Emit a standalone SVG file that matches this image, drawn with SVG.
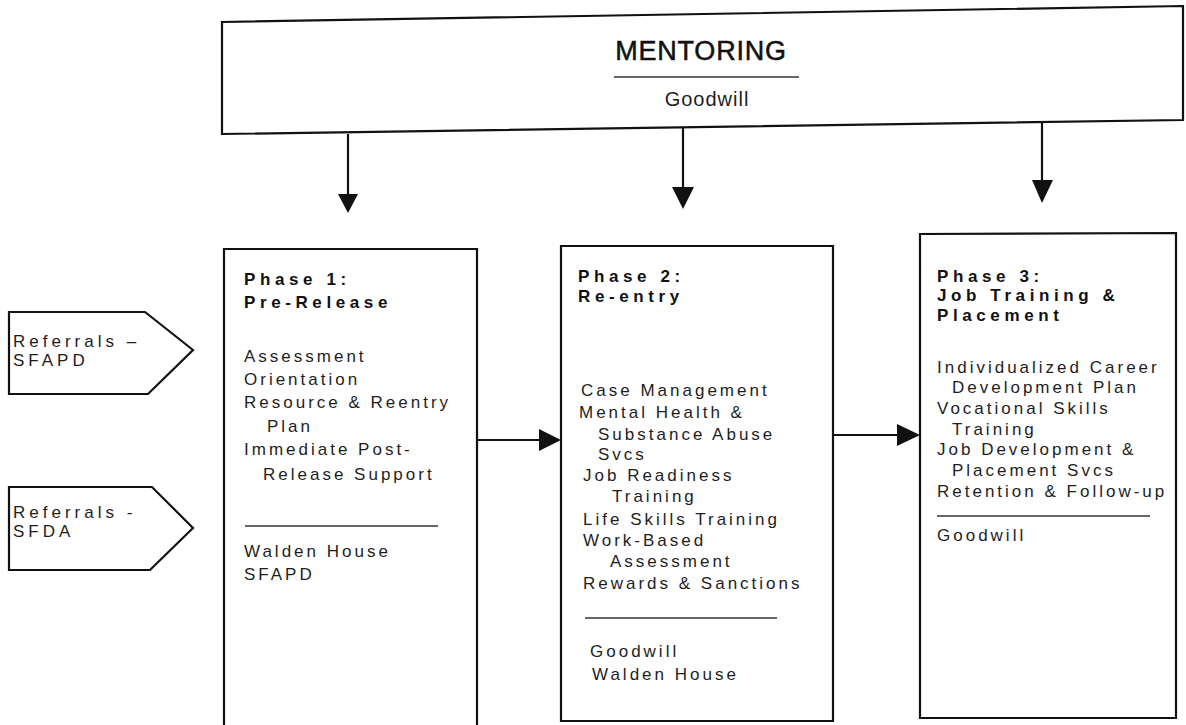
<svg xmlns="http://www.w3.org/2000/svg" width="1186" height="725" viewBox="0 0 1186 725">
  <defs>
    <style>
      .box { fill: #ffffff; stroke: #111111; stroke-width: 2.2; }
      .rule { stroke: #333333; stroke-width: 1.5; fill: none; }
      .edge { stroke: #111111; stroke-width: 2.2; fill: none; }
      .head { fill: #111111; stroke: none; }
      .body { font-family: "Liberation Sans", Arial, sans-serif; font-size: 17px; letter-spacing: 3px; fill: #1e1e1e; }
      .ref { font-family: "Liberation Sans", Arial, sans-serif; font-size: 17px; letter-spacing: 4px; fill: #1e1e1e; }
      .title { font-family: "Liberation Sans", Arial, sans-serif; font-size: 17px; font-weight: bold; letter-spacing: 4.6px; fill: #111111; }
      .big { font-family: "Liberation Sans", Arial, sans-serif; font-size: 27px; letter-spacing: 0.8px; fill: #111111; stroke: #111111; stroke-width: 0.5px; }
      .sub { font-family: "Liberation Sans", Arial, sans-serif; font-size: 20px; letter-spacing: 1px; fill: #1e1e1e; }
    </style>
  </defs>
  <rect width="1186" height="725" fill="#ffffff"/>

  <!-- Mentoring banner -->
  <g id="mentoring">
    <polygon class="box" points="222,22 1183,6 1183,120 222,134"/>
    <text class="big" x="701" y="60" text-anchor="middle">MENTORING</text>
    <line class="rule" x1="614" y1="77" x2="799" y2="77"/>
    <text class="sub" x="707" y="106" text-anchor="middle">Goodwill</text>
  </g>

  <!-- Referral inputs -->
  <g id="referral-sfapd">
    <polygon class="box" points="9,312 145,312 193,350 148,394 9,394"/>
    <text class="ref" x="13" y="347">Referrals –</text>
    <text class="ref" x="13" y="366">SFAPD</text>
  </g>
  <g id="referral-sfda">
    <polygon class="box" points="9,487 152,487 193,528 150,570 9,570"/>
    <text class="ref" x="13" y="518">Referrals -</text>
    <text class="ref" x="13" y="537">SFDA</text>
  </g>

  <!-- Phase 1 -->
  <g id="phase1">
    <polygon class="box" points="224,249 477,249 477,740 224,740"/>
    <text class="title" x="244" y="285">Phase 1:</text>
    <text class="title" x="244" y="308">Pre-Release</text>
    <text class="body" x="244" y="362">Assessment</text>
    <text class="body" x="244" y="385">Orientation</text>
    <text class="body" x="244" y="408">Resource &amp; Reentry</text>
    <text class="body" x="267" y="432">Plan</text>
    <text class="body" x="244" y="455">Immediate Post-</text>
    <text class="body" x="263" y="480">Release Support</text>
    <line class="rule" x1="245" y1="526" x2="438" y2="526"/>
    <text class="body" x="244" y="557">Walden House</text>
    <text class="body" x="244" y="580">SFAPD</text>
  </g>

  <!-- Phase 2 -->
  <g id="phase2">
    <polygon class="box" points="561,246 833,246 833,721 561,721"/>
    <text class="title" x="578" y="282">Phase 2:</text>
    <text class="title" x="578" y="302">Re-entry</text>
    <text class="body" x="581" y="396">Case Management</text>
    <text class="body" x="579" y="418">Mental Health &amp;</text>
    <text class="body" x="598" y="440">Substance Abuse</text>
    <text class="body" x="598" y="460">Svcs</text>
    <text class="body" x="583" y="481">Job Readiness</text>
    <text class="body" x="612" y="502">Training</text>
    <text class="body" x="583" y="525">Life Skills Training</text>
    <text class="body" x="583" y="546">Work-Based</text>
    <text class="body" x="610" y="567">Assessment</text>
    <text class="body" x="583" y="589">Rewards &amp; Sanctions</text>
    <line class="rule" x1="585" y1="618" x2="777" y2="618"/>
    <text class="body" x="590" y="657">Goodwill</text>
    <text class="body" x="592" y="680">Walden House</text>
  </g>

  <!-- Phase 3 -->
  <g id="phase3">
    <polygon class="box" points="920,234 1176,233 1176,718 920,718"/>
    <text class="title" x="937" y="282">Phase 3:</text>
    <text class="title" x="937" y="301">Job Training &amp;</text>
    <text class="title" x="937" y="321">Placement</text>
    <text class="body" x="937" y="373">Individualized Career</text>
    <text class="body" x="952" y="393">Development Plan</text>
    <text class="body" x="937" y="414">Vocational Skills</text>
    <text class="body" x="952" y="435">Training</text>
    <text class="body" x="937" y="455">Job Development &amp;</text>
    <text class="body" x="952" y="476">Placement Svcs</text>
    <text class="body" x="937" y="497">Retention &amp; Follow-up</text>
    <line class="rule" x1="937" y1="516" x2="1150" y2="516"/>
    <text class="body" x="937" y="541">Goodwill</text>
  </g>

  <!-- Connectors -->
  <g id="connectors">
    <line class="edge" x1="348" y1="134" x2="348" y2="196"/>
    <polygon class="head" points="338,194 358,194 348,213"/>
    <line class="edge" x1="683" y1="128" x2="683" y2="189"/>
    <polygon class="head" points="672,187 694,187 683,209"/>
    <line class="edge" x1="1042" y1="122" x2="1042" y2="182"/>
    <polygon class="head" points="1032,180 1053,180 1042,203"/>
    <line class="edge" x1="477" y1="440" x2="541" y2="440"/>
    <polygon class="head" points="539,429 539,451 561,440"/>
    <line class="edge" x1="833" y1="435" x2="899" y2="435"/>
    <polygon class="head" points="897,424 897,446 920,435"/>
  </g>
</svg>
